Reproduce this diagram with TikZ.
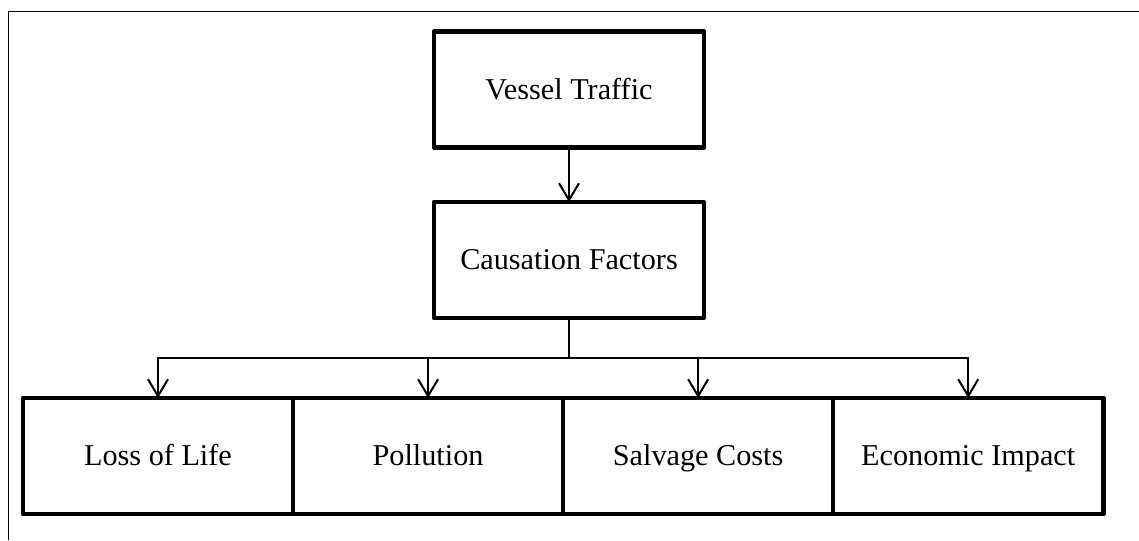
\documentclass[tikz,border=0pt]{standalone}
\usepackage{fontspec}
\setmainfont{Liberation Serif}
\usepackage{tikz}
\usetikzlibrary{calc}
\usetikzlibrary{arrows.meta}
\usetikzlibrary{positioning}

\begin{document}
\begin{tikzpicture}[x=0.025cm, y=-0.025cm,
  box/.style={rectangle, draw=black, line width=0.115cm, line join=round, outer sep=0pt,
    minimum width=6.75cm, minimum height=2.9cm, inner sep=0pt,
    text height=18pt, text depth=3.8pt,
    font=\fontsize{21.5}{25}\selectfont},
  link/.style={line width=0.05cm, draw=black},
  tip/.style={-{Straight Barb[length=0.42cm, width=0.5cm]}}]
\useasboundingbox (0,0) rectangle (1139,540);
\draw [line width=0.025cm] (8.5,540) |- (1139,11);
\node [box] (VT) at (569, 89.5) {Vessel Traffic};
\node [box] (CF) at (569, 260) {Causation Factors};
\node [box] (LL) at (158, 456) {Loss of Life};
\node [box, right=0cm of LL] (PO) {Pollution};
\node [box, right=0cm of PO] (SC) {Salvage Costs};
\node [box, right=0cm of SC] (EI) {Economic Impact};
\coordinate (split) at (569, 358);
\draw [link, tip] (VT) to (CF);
\draw [link] (CF) to (split);
\draw [link, tip] (split) -| (LL);
\draw [link, tip] (split) -| (PO);
\draw [link, tip] (split) -| (SC);
\draw [link, tip] (split) -| (EI);
\end{tikzpicture}
\end{document}
